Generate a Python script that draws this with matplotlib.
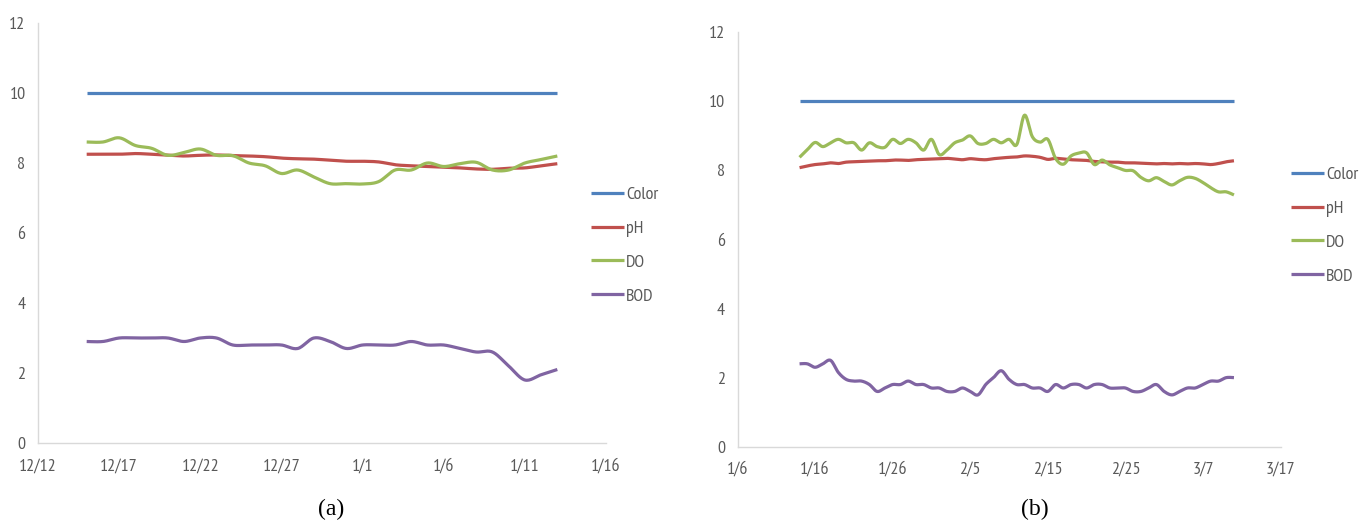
import numpy as np
import pandas as pd
import matplotlib
matplotlib.use("Agg")
import matplotlib.pyplot as plt
import matplotlib.dates as mdates
from matplotlib.ticker import FuncFormatter, MultipleLocator

# ---------------- data ----------------
# Panel (a): daily readings 2014-12-15 .. 2015-01-13
start_a = "2014-12-15"
ph_a = [8.25, 8.25, 8.25, 8.27, 8.25, 8.22, 8.20, 8.22, 8.23, 8.21,
        8.20, 8.18, 8.14, 8.12, 8.11, 8.08, 8.05, 8.05, 8.03, 7.95,
        7.92, 7.90, 7.88, 7.86, 7.83, 7.82, 7.85, 7.86, 7.92, 7.98]
do_a = [8.60, 8.60, 8.72, 8.50, 8.42, 8.22, 8.30, 8.40, 8.22, 8.21,
        8.00, 7.92, 7.70, 7.80, 7.60, 7.41, 7.41, 7.40, 7.47, 7.80,
        7.80, 8.00, 7.90, 7.98, 8.02, 7.80, 7.80, 8.00, 8.10, 8.20]
bod_a = [2.90, 2.90, 3.00, 3.00, 3.00, 3.00, 2.90, 3.00, 3.00, 2.80,
         2.80, 2.80, 2.80, 2.70, 3.00, 2.90, 2.70, 2.80, 2.80, 2.80,
         2.90, 2.80, 2.80, 2.70, 2.60, 2.60, 2.20, 1.80, 1.95, 2.10]
color_a = [10.0] * len(ph_a)

# Panel (b): daily readings 2015-01-14 .. 2015-03-11
start_b = "2015-01-14"
ph_b = [8.08, 8.13, 8.17, 8.19, 8.22, 8.20, 8.24, 8.25, 8.26, 8.27,
        8.28, 8.28, 8.30, 8.30, 8.29, 8.31, 8.32, 8.33, 8.34, 8.35,
        8.33, 8.31, 8.34, 8.32, 8.31, 8.34, 8.36, 8.38, 8.39, 8.42,
        8.41, 8.38, 8.32, 8.35, 8.33, 8.31, 8.30, 8.29, 8.26, 8.25,
        8.24, 8.24, 8.22, 8.22, 8.21, 8.20, 8.19, 8.20, 8.19, 8.20,
        8.19, 8.20, 8.19, 8.17, 8.20, 8.25, 8.28]
do_b = [8.38, 8.60, 8.81, 8.69, 8.80, 8.90, 8.80, 8.80, 8.59, 8.80,
        8.69, 8.67, 8.90, 8.78, 8.90, 8.80, 8.59, 8.90, 8.46, 8.59,
        8.80, 8.88, 9.00, 8.78, 8.78, 8.90, 8.80, 8.90, 8.75, 9.60,
        8.98, 8.82, 8.90, 8.35, 8.18, 8.42, 8.50, 8.51, 8.17, 8.30,
        8.16, 8.08, 8.00, 7.99, 7.80, 7.70, 7.79, 7.68, 7.58, 7.70,
        7.80, 7.77, 7.65, 7.50, 7.38, 7.38, 7.29]
bod_b = [2.40, 2.40, 2.30, 2.40, 2.50, 2.15, 1.95, 1.90, 1.90, 1.80,
         1.60, 1.70, 1.80, 1.80, 1.90, 1.80, 1.80, 1.70, 1.70, 1.60,
         1.60, 1.70, 1.60, 1.50, 1.80, 2.00, 2.20, 1.95, 1.80, 1.80,
         1.70, 1.70, 1.60, 1.80, 1.70, 1.80, 1.80, 1.70, 1.80, 1.80,
         1.70, 1.70, 1.70, 1.60, 1.60, 1.70, 1.80, 1.60, 1.50, 1.60,
         1.70, 1.70, 1.80, 1.90, 1.90, 2.00, 2.00]
color_b = [10.0] * len(ph_b)

series_names = ["Color", "pH", "DO", "BOD"]
series_colors = ["#4F81BD", "#C0504D", "#9BBB59", "#8064A2"]

xlim_a = ("2014-12-12", "2015-01-16")
xlim_b = ("2015-01-06", "2015-03-17")
tick_step_a = 5
tick_step_b = 10

# ---------------- styling ----------------
TICK_FONT = ["PT Sans Narrow", "Roboto Condensed", "DejaVu Sans"]
TICK_SIZE = 13
TICK_COLOR = "#595959"
SPINE_COLOR = "#D9D9D9"


def smooth_curve(x, y, n=16):
    """Cubic Bezier smoothing through every point (spreadsheet-style smoothed line)."""
    P = np.column_stack([np.asarray(x, float), np.asarray(y, float)])
    ext = np.vstack([P[0], P, P[-1]])
    t = np.linspace(0.0, 1.0, n, endpoint=False)[:, None]
    pieces = []
    for i in range(1, len(ext) - 2):
        p0, p1, p2, p3 = ext[i - 1], ext[i], ext[i + 1], ext[i + 2]
        c1 = p1 + (p2 - p0) / 6.0
        c2 = p2 - (p3 - p1) / 6.0
        seg = ((1 - t) ** 3) * p1 + 3 * ((1 - t) ** 2) * t * c1 \
            + 3 * (1 - t) * t ** 2 * c2 + t ** 3 * p2
        pieces.append(seg)
    pieces.append(P[-1][None, :])
    S = np.vstack(pieces)
    return S[:, 0], S[:, 1]


def md_formatter(v, pos):
    d = mdates.num2date(v)
    return f"{d.month}/{d.day}"


def draw_panel(ax, start, values_list, xlim, step):
    dates = pd.date_range(start, periods=len(values_list[0]), freq="D")
    xnum = mdates.date2num(dates.to_pydatetime())
    for name, vals, col in zip(series_names, values_list, series_colors):
        sx, sy = smooth_curve(xnum, vals)
        ax.plot(sx, sy, color=col, lw=2.3, label=name,
                solid_capstyle="butt", solid_joinstyle="round")
    x0 = mdates.date2num(pd.Timestamp(xlim[0]).to_pydatetime())
    x1 = mdates.date2num(pd.Timestamp(xlim[1]).to_pydatetime())
    ax.set_xlim(x0, x1)
    ax.set_ylim(0, 12)
    ax.set_xticks(np.arange(x0, x1 + 0.5, step))
    ax.xaxis.set_major_formatter(FuncFormatter(md_formatter))
    ax.yaxis.set_major_locator(MultipleLocator(2))
    for s in ("top", "right"):
        ax.spines[s].set_visible(False)
    for s in ("left", "bottom"):
        ax.spines[s].set_color(SPINE_COLOR)
        ax.spines[s].set_linewidth(1.0)
    ax.tick_params(axis="both", length=0, colors=TICK_COLOR, labelsize=TICK_SIZE)
    ax.tick_params(axis="y", pad=9)
    ax.tick_params(axis="x", pad=11)
    for lab in ax.get_xticklabels() + ax.get_yticklabels():
        lab.set_family(TICK_FONT)


fig = plt.figure(figsize=(13.7, 5.23), dpi=100)
fig.patch.set_facecolor("white")

W, H = 1370.0, 523.0
ax_a = fig.add_axes([38 / W, (H - 443) / H, 568 / W, 420 / H])
ax_b = fig.add_axes([737.5 / W, (H - 446.7) / H, 543 / W, 414.4 / H])

draw_panel(ax_a, start_a, [color_a, ph_a, do_a, bod_a], xlim_a, tick_step_a)
draw_panel(ax_b, start_b, [color_b, ph_b, do_b, bod_b], xlim_b, tick_step_b)

legend_kw = dict(loc="center left", frameon=False, borderpad=0, borderaxespad=0,
                 handlelength=1.85, handletextpad=0.1, labelspacing=0.95,
                 prop={"family": TICK_FONT, "size": TICK_SIZE}, labelcolor=TICK_COLOR)
fig.legend(*ax_a.get_legend_handles_labels(),
           bbox_to_anchor=(591 / W, (H - 245.5) / H), **legend_kw)
fig.legend(*ax_b.get_legend_handles_labels(),
           bbox_to_anchor=(1291 / W, (H - 225.5) / H), **legend_kw)

fig.text(331 / W, (H - 509) / H, "(a)", ha="center", va="center",
         family=["Liberation Serif", "DejaVu Serif"], fontsize=17, color="black")
fig.text(1035 / W, (H - 509) / H, "(b)", ha="center", va="center",
         family=["Liberation Serif", "DejaVu Serif"], fontsize=17, color="black")

fig.savefig("out.png", dpi=100, facecolor="white")
